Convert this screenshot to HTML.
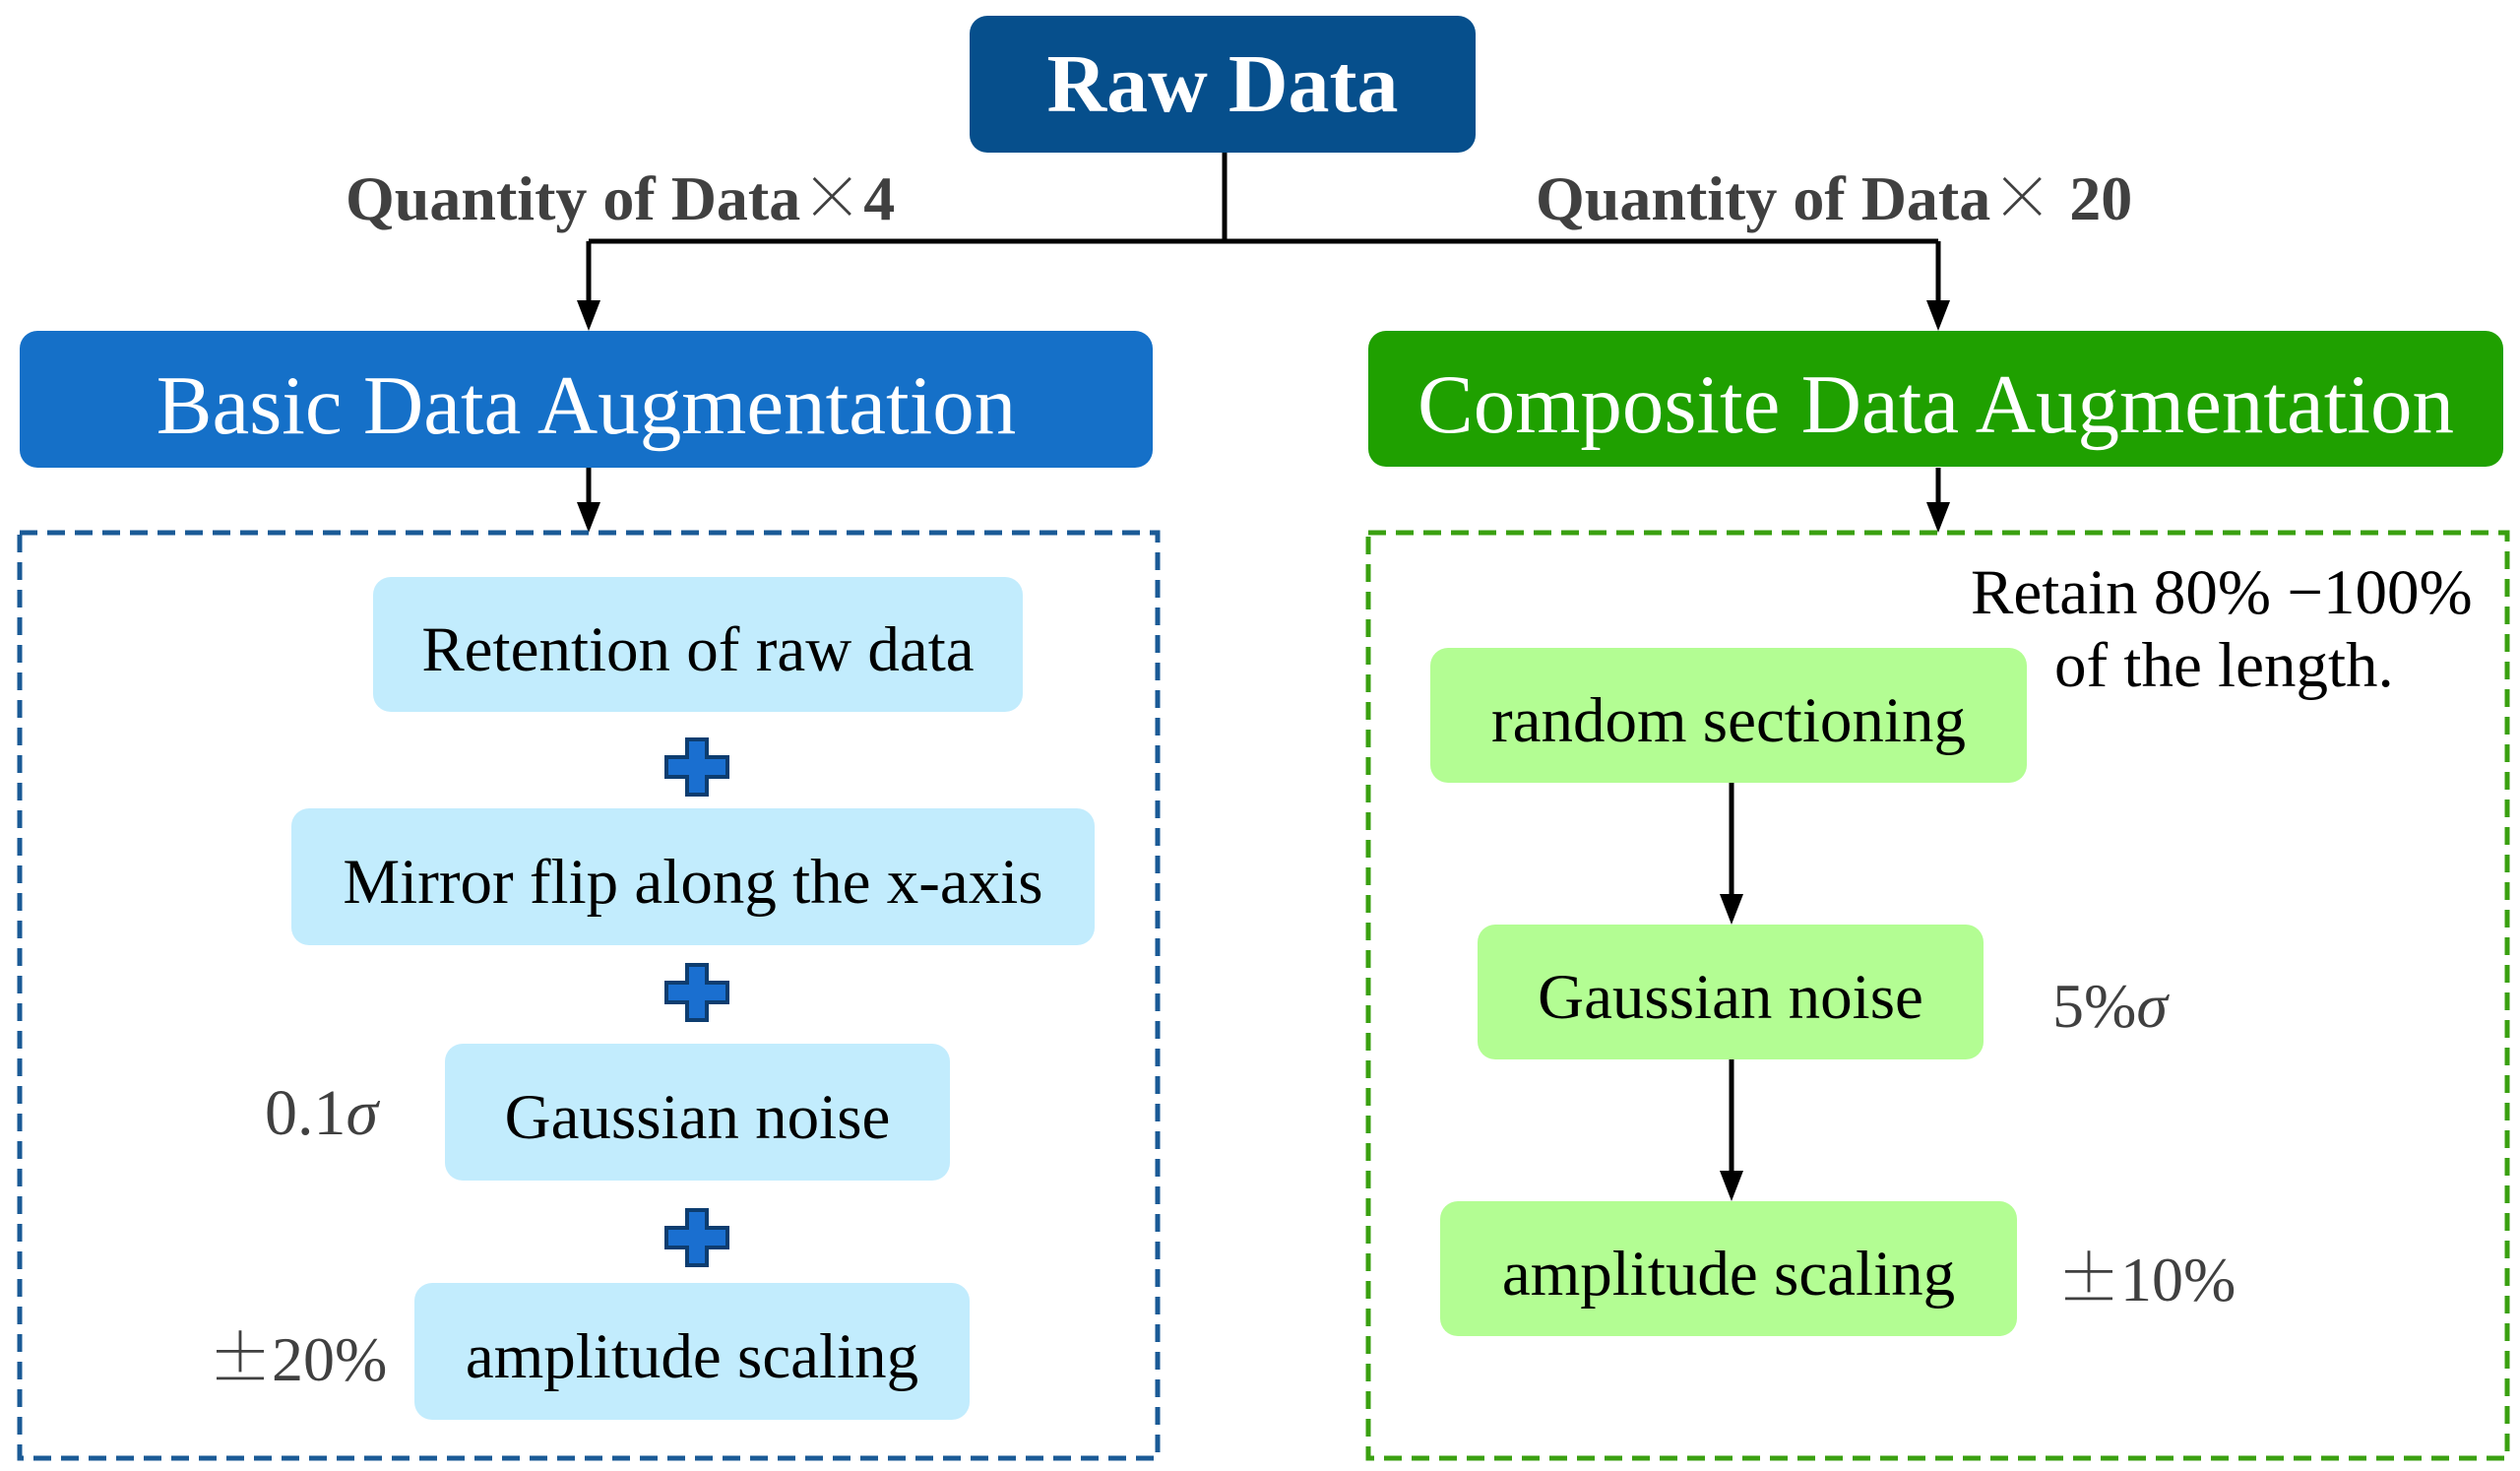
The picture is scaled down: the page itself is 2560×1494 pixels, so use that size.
<!DOCTYPE html>
<html><head><meta charset="utf-8"><style>
body{margin:0;width:2560px;height:1494px;background:#fff;position:relative;overflow:hidden;font-family:"Liberation Serif",serif;}
.b{position:absolute;display:flex;align-items:center;justify-content:center;box-sizing:border-box;}
.n{padding-top:12px;}
.t{position:absolute;white-space:nowrap;line-height:1;}
.c{font-family:"Noto Serif CJK SC","Noto Sans CJK SC",serif;font-weight:normal;}
</style></head><body>
<svg width="2560" height="1494" style="position:absolute;left:0;top:0">
<g stroke="#000" stroke-width="5" fill="none">
<path d="M1244 155 V245 M598 245 H1969"/>
<path d="M598 245 V320" />
<path d="M1969 245 V320"/>
<path d="M598 475 V525"/>
<path d="M1969 475 V525"/>
<path d="M1759 795 V922"/>
<path d="M1759 1076 V1203"/>
</g>
<g fill="#000">
<path d="M586 305 L610 305 L598 336z"/>
<path d="M1957 305 L1981 305 L1969 336z"/>
<path d="M586 510 L610 510 L598 541z"/>
<path d="M1957 510 L1981 510 L1969 541z"/>
<path d="M1747 908 L1771 908 L1759 939z"/>
<path d="M1747 1189 L1771 1189 L1759 1220z"/>
</g>
<rect x="20" y="541" width="1156" height="940" fill="none" stroke="#1a5a96" stroke-width="5" stroke-dasharray="18 10"/>
<rect x="1390" y="541" width="1157" height="940" fill="none" stroke="#3aa010" stroke-width="5" stroke-dasharray="18 10"/>
<g fill="#1a6fd0" stroke="#0d3d70" stroke-width="4">
<path d="M698 751h20v18h21v20h-21v18h-20v-18h-21v-20h21z"/>
<path d="M698 980h20v18h21v20h-21v18h-20v-18h-21v-20h21z"/>
<path d="M698 1229h20v18h21v20h-21v18h-20v-18h-21v-20h21z"/>
</g>
</svg>
<div class="b" style="left:985px;top:16px;width:514px;height:139px;background:#064f8c;border-radius:18px;color:#fff;font-weight:bold;font-size:84px;">Raw Data</div>
<div class="t" style="left:351px;top:164px;font-size:64px;font-weight:bold;color:#404040;">Quantity of Data<span class="c">×</span>4</div>
<div class="t" style="left:1560px;top:164px;font-size:64px;font-weight:bold;color:#404040;">Quantity of Data<span class="c">×</span> 20</div>
<div class="b n" style="left:20px;top:336px;width:1151px;height:139px;background:#1570c8;border-radius:18px;color:#fff;font-size:85px;">Basic Data Augmentation</div>
<div class="b n" style="left:1390px;top:336px;width:1153px;height:138px;background:#1fa000;border-radius:18px;color:#fff;font-size:85px;">Composite Data Augmentation</div>
<div class="b n" style="left:379px;top:586px;width:660px;height:137px;background:#c2ecfd;border-radius:18px;font-size:65px;">Retention of raw data</div>
<div class="b n" style="left:296px;top:821px;width:816px;height:139px;background:#c2ecfd;border-radius:18px;font-size:65px;">Mirror flip along the x-axis</div>
<div class="b n" style="left:452px;top:1060px;width:513px;height:139px;background:#c2ecfd;border-radius:18px;font-size:65px;">Gaussian noise</div>
<div class="b n" style="left:421px;top:1303px;width:564px;height:139px;background:#c2ecfd;border-radius:18px;font-size:65px;">amplitude scaling</div>
<div class="t" style="left:269px;top:1098px;font-size:66px;color:#404040;">0.1<i>σ</i></div>
<div class="t" style="left:212px;top:1343px;font-size:64px;color:#404040;"><span class="c">±</span>20%</div>
<div class="b n" style="left:1453px;top:658px;width:606px;height:137px;background:#b3fd93;border-radius:18px;font-size:65px;">random sectioning</div>
<div class="b n" style="left:1501px;top:939px;width:514px;height:137px;background:#b3fd93;border-radius:18px;font-size:65px;">Gaussian noise</div>
<div class="b n" style="left:1463px;top:1220px;width:586px;height:137px;background:#b3fd93;border-radius:18px;font-size:65px;">amplitude scaling</div>
<div class="t" style="left:2002px;top:570px;font-size:65px;">Retain 80% −100%</div>
<div class="t" style="left:2087px;top:644px;font-size:65px;">of the length.</div>
<div class="t" style="left:2085px;top:990px;font-size:64px;color:#404040;">5%<i>σ</i></div>
<div class="t" style="left:2090px;top:1262px;font-size:64px;color:#404040;"><span class="c">±</span>10%</div>
</body></html>
